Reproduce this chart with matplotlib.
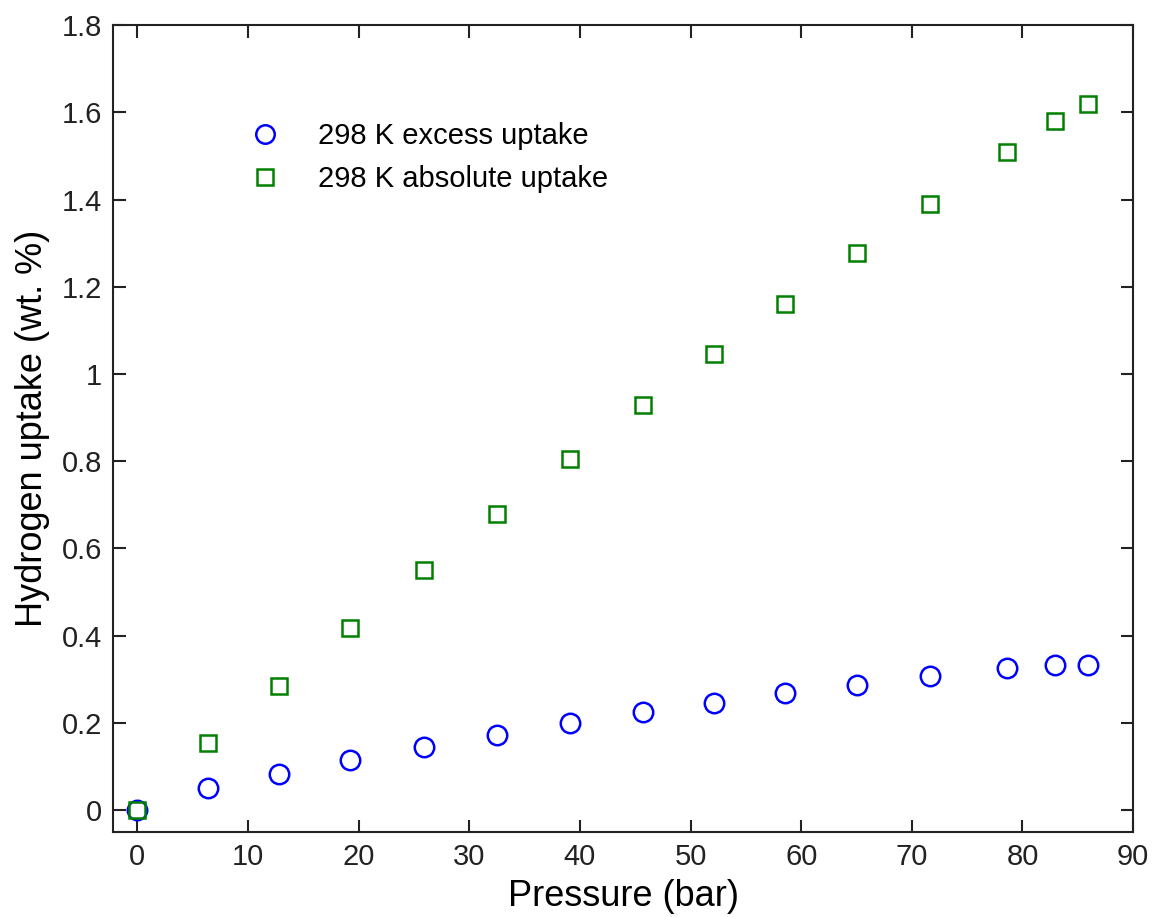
import matplotlib
matplotlib.use("Agg")
import matplotlib.pyplot as plt

plt.rcParams['font.family'] = ['Liberation Sans', 'DejaVu Sans']

# ------------------------- Data -------------------------
pressure = [0, 6.4, 12.8, 19.2, 25.9, 32.5, 39.1, 45.7, 52.1, 58.5, 65.0, 71.6, 78.6, 82.9, 85.9]
excess = [0, 0.05, 0.083, 0.115, 0.145, 0.172, 0.2, 0.225, 0.245, 0.268, 0.287, 0.307, 0.326, 0.333, 0.333]
absolute = [0, 0.155, 0.285, 0.418, 0.55, 0.68, 0.805, 0.93, 1.045, 1.16, 1.278, 1.39, 1.51, 1.58, 1.62]

x_ticks = [0, 10, 20, 30, 40, 50, 60, 70, 80, 90]
y_ticks = [0, 0.2, 0.4, 0.6, 0.8, 1.0, 1.2, 1.4, 1.6, 1.8]
y_labels = ["0", "0.2", "0.4", "0.6", "0.8", "1", "1.2", "1.4", "1.6", "1.8"]

# ------------------------- Plot -------------------------
fig = plt.figure(figsize=(11.56, 9.17), dpi=100)
ax = fig.add_axes([0.0978, 0.0927, 0.8824, 0.88])

ax.plot(pressure, excess, "o", ms=14, mfc="none", mec="#0000ff", mew=1.8,
        label="298 K excess uptake")
ax.plot(pressure, absolute, "s", ms=11.5, mfc="none", mec="#008000", mew=1.8,
        label="298 K absolute uptake")

ax.set_xlim(-2.2, 90)
ax.set_ylim(-0.05, 1.8)
ax.set_xticks(x_ticks)
ax.set_yticks(y_ticks)
ax.set_yticklabels(y_labels)
ax.tick_params(direction="in", top=True, right=True, length=9, width=1.5,
               labelsize=21, pad=8, colors="#222222")
for s in ax.spines.values():
    s.set_linewidth(1.5)
    s.set_color("#222222")

ax.set_xlabel("Pressure (bar)", fontsize=26, labelpad=6)
ax.set_ylabel("Hydrogen uptake (wt. %)", fontsize=26, labelpad=8)

ax.legend(loc="upper left", bbox_to_anchor=(0.095, 0.912), frameon=False,
          fontsize=21, handletextpad=0.8, labelspacing=0.5, markerscale=0.95)

fig.savefig("out.png", dpi=100)
